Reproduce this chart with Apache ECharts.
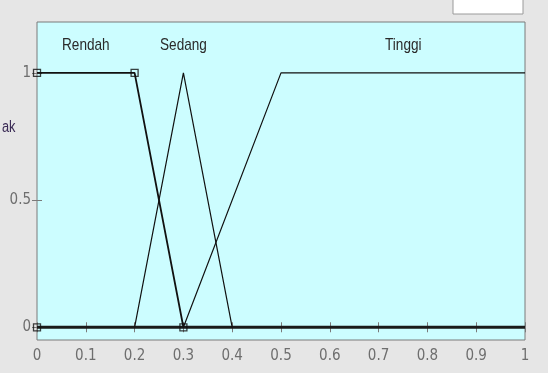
<!DOCTYPE html>
<html><head><meta charset="utf-8">
<style>html,body{margin:0;padding:0;background:#e6e6e6;}#c{width:548px;height:373px;}</style>
<script src="https://cdn.jsdelivr.net/npm/echarts@6/dist/echarts.min.js"></script>
</head><body><div id="c"></div>
<script>
var xTicks = [0,0.1,0.2,0.3,0.4,0.5,0.6,0.7,0.8,0.9,1];
var yTickLabels = [0,0.5,1];
var mfNames = ['Rendah','Sedang','Tinggi'];
var rendah = [[0,1],[0.2,1],[0.3,0]];
var sedang = [[0.2,0],[0.3,1],[0.4,0]];
var tinggi = [[0.3,0],[0.5,1],[1,1]];
var baseline = [[0,0],[1,0]];
var rendahMarkers = [[0,1],[0.2,1],[0,0],[0.3,0]];

var AXFONT = "'DejaVu Sans Condensed','Liberation Sans',Arial,sans-serif";
var TXFONT = "'Liberation Sans',Arial,sans-serif";
var chart = echarts.init(document.getElementById('c'));
var tickStyle = {color:'#7a7a7a'};
function fmt(v){ return String(Math.round(v*10)/10); }
chart.setOption({
  backgroundColor:'#e6e6e6',
  animation:false,
  grid:{left:37,right:23,top:22,bottom:33,show:true,backgroundColor:'#ccfdff',borderColor:'#7a7a7a',borderWidth:1},
  xAxis:[{type:'value',min:0,max:1,interval:0.1,position:'bottom',
    axisLine:{show:false},axisTick:{inside:true,length:5,lineStyle:tickStyle,customValues:xTicks},
    splitLine:{show:false},
    axisLabel:{color:'#6e6e6e',fontFamily:AXFONT,fontSize:15,margin:9,customValues:xTicks,formatter:fmt}},
    {type:'value',min:0,max:1,interval:0.1,position:'top',
    axisLine:{show:false},axisTick:{inside:true,length:5,lineStyle:tickStyle,customValues:xTicks},
    splitLine:{show:false},axisLabel:{show:false}}],
  yAxis:[{type:'value',min:-0.05,max:1.2,position:'left',
    axisLine:{show:false},axisTick:{inside:true,length:5,lineStyle:tickStyle,customValues:yTickLabels},splitLine:{show:false},
    axisLabel:{color:'#6e6e6e',fontFamily:AXFONT,fontSize:15,margin:6,customValues:yTickLabels,formatter:fmt}},
    {type:'value',min:-0.05,max:1.2,position:'right',
    axisLine:{show:false},axisTick:{inside:true,length:5,lineStyle:tickStyle,customValues:yTickLabels},splitLine:{show:false},
    axisLabel:{show:false}}],
  series:[
    {type:'line',data:baseline,symbol:'none',lineStyle:{color:'#1a1a1a',width:3},z:2},
    {name:mfNames[1],type:'line',data:sedang,symbol:'none',lineStyle:{color:'#111',width:1.2},z:3},
    {name:mfNames[2],type:'line',data:tinggi,symbol:'none',lineStyle:{color:'#111',width:1.2},z:3},
    {name:mfNames[0],type:'line',data:rendah,symbol:'none',lineStyle:{color:'#111',width:1.8},z:4},
    {type:'scatter',data:rendahMarkers,symbol:'rect',symbolSize:7,
      itemStyle:{color:'rgba(0,0,0,0)',borderColor:'#111',borderWidth:1.3},z:5}
  ],
  graphic:[
    {type:'rect',shape:{x:453,y:-2,width:70,height:16},style:{fill:'#ffffff',stroke:'#9a9a9a',lineWidth:1}},
    {type:'text',x:62,y:37,scaleX:0.8,style:{text:mfNames[0],fill:'#2a2a2a',font:'17px '+TXFONT}},
    {type:'text',x:160,y:37,scaleX:0.8,style:{text:mfNames[1],fill:'#2a2a2a',font:'17px '+TXFONT}},
    {type:'text',x:385,y:37,scaleX:0.8,style:{text:mfNames[2],fill:'#2a2a2a',font:'17px '+TXFONT}},
    {type:'text',x:2,y:120,scaleX:0.8,style:{text:'ak',fill:'#3a2a55',font:'16px '+TXFONT}}
  ]
});
</script></body></html>
